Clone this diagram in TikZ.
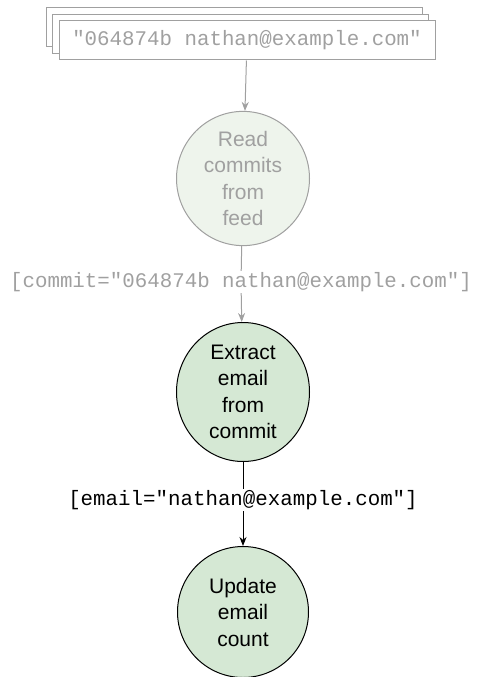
\documentclass[tikz,border=0pt]{standalone}
\usepackage{fontspec}
\setmainfont{Liberation Sans}
\setmonofont{Liberation Mono}
\usetikzlibrary{arrows.meta, shapes.geometric}
\definecolor{donegray}{HTML}{A0A0A0}
\definecolor{donefill}{HTML}{EEF4EC}
\definecolor{stepfill}{HTML}{D5E8D4}
\begin{document}
\begin{tikzpicture}
[x=1pt, y=-1pt, line width=1pt,
card/.style={rectangle, draw=donegray, fill=white, inner sep=0pt, minimum width=376pt, minimum height=39pt},
donestep/.style={ellipse, draw=donegray, fill=donefill, text=donegray, align=center, inner sep=0pt, minimum width=133pt, minimum height=133pt, font=\fontsize{21}{26.5}\selectfont},
stepnode/.style={ellipse, draw=black, fill=stepfill, align=center, inner sep=0pt, minimum width=133pt, minimum height=133pt, font=\fontsize{21}{26.5}\selectfont},
donelabel/.style={text=donegray, inner sep=1pt, font=\fontsize{20.8}{24}\ttfamily},
steplabel/.style={inner sep=1pt, font=\fontsize{20.8}{24}\ttfamily},
doneline/.style={draw=donegray},
donearrow/.style={draw=donegray, -{Stealth[length=9pt, width=7pt]}},
steparrow/.style={draw=black, -{Stealth[length=9pt, width=7pt]}}]

\useasboundingbox (0,0) rectangle (481,677);

\node[card] (card2) at (234,27) {};
\node[card] (card1) at (240.5,34) {};
\node[card, text=donegray, font=\fontsize{20.8}{24}\ttfamily] (card0) at (247,40.5) {"064874b nathan@example.com"};

\node[donestep] (read) at (243,178.5) {Read\\commits\\from\\feed};
\node[donelabel] (commitlbl) at (241,282) {[commit="064874b nathan@example.com"]};
\node[stepnode, minimum height=139pt] (extract) at (243,392) {Extract\\email\\from\\commit};
\node[steplabel] (emaillbl) at (243,500) {[email="nathan@example.com"]};
\node[stepnode, minimum height=131pt, minimum width=131pt] (update) at (243,612) {Update\\email\\count};

\draw[donearrow] (card0) -- (read);
\draw[doneline] (read) -- (commitlbl);
\draw[donearrow] (commitlbl) -- (extract);
\draw (extract) -- (emaillbl);
\draw[steparrow] (emaillbl) -- (update);
\end{tikzpicture}
\end{document}
